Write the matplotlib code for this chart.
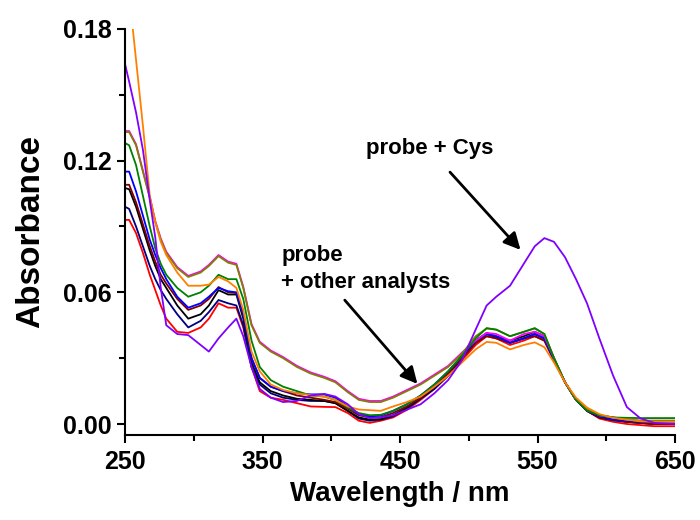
import numpy as np
import matplotlib
matplotlib.use('Agg')
import matplotlib.pyplot as plt

plt.rcParams['font.family'] = ['Liberation Sans', 'DejaVu Sans']
plt.rcParams['font.weight'] = 'bold'

wl = [250, 253, 258, 263, 268, 272, 276, 280, 288, 296, 305, 311, 318, 325, 331, 336,
      342, 348, 356, 365, 375, 385, 395, 403, 412, 420, 428, 436, 445, 455, 465, 475,
      485, 495, 505, 513, 520, 530, 540, 548, 555, 562, 570, 578, 586, 595, 605, 615,
      625, 635, 650]

olive = [.133, .133, .127, .115, .103, .092, .084, .078, .071, .067, .069, .072, .0765, .0735, .0725, .062,
         .045, .037, .033, .030, .026, .023, .021, .019, .0145, .011, .010, .010, .012, .015, .018, .022,
         .026, .032, .040, .0435, .043, .040, .042, .0435, .041, .030, .019, .011, .007, .004, .003, .002,
         .0015, .0015, .0015]
magenta = [.1335, .1335, .1275, .1155, .1035, .0925, .0845, .0785, .0715, .0675, .0695, .0725, .077, .074, .073, .0625,
           .0455, .0375, .0335, .0305, .0265, .0235, .0215, .0195, .015, .0115, .0105, .0105, .0125, .0155, .0185, .0225,
           .0265, .0325, .038, .0415, .041, .038, .041, .042, .040, .030, .019, .011, .007, .004, .003, .002,
           .0015, .0015, .0015]
green = [.128, .127, .118, .104, .090, .080, .073, .068, .062, .058, .060, .063, .068, .066, .066, .057,
         .038, .026, .020, .017, .015, .013, .0125, .011, .0075, .005, .004, .0042, .006, .009, .013, .018,
         .024, .031, .039, .0437, .043, .040, .042, .0437, .041, .030, .019, .011, .006, .004, .003, .0028,
         .0027, .0027, .0027]
orange = [.215, .196, .166, .136, .104, .092, .083, .077, .069, .063, .063, .0635, .067, .065, .062, .052,
          .033, .024, .018, .0155, .014, .0132, .0125, .011, .008, .0066, .0063, .006, .008, .010, .0125, .017,
          .022, .028, .034, .0374, .037, .034, .036, .0372, .035, .028, .019, .012, .0075, .0045, .0028, .002,
          .0012, .001, .001]
purple = [.164, .156, .142, .125, .102, .085, .062, .045, .041, .0405, .036, .033, .039, .044, .048, .040,
          .026, .016, .012, .010, .0105, .013, .0137, .0125, .009, .0045, .0027, .003, .004, .0065, .009, .014,
          .020, .029, .043, .054, .058, .063, .073, .081, .0847, .083, .076, .066, .055, .039, .022, .0077,
          .0025, .0005, .0]
blue = [.115, .115, .106, .095, .084, .077, .071, .066, .058, .053, .055, .058, .062, .0605, .060, .050,
        .030, .021, .017, .015, .014, .0135, .0135, .012, .008, .0045, .0035, .0038, .006, .009, .013, .018,
        .024, .031, .038, .041, .040, .037, .039, .041, .039, .029, .019, .011, .006, .0035, .002, .0015,
        .001, .001, .001]
darkred = [.109, .109, .101, .091, .081, .074, .068, .064, .057, .052, .054, .057, .0624, .060, .0597, .050,
           .030, .021, .017, .015, .013, .012, .011, .010, .007, .004, .003, .003, .005, .008, .012, .017,
           .023, .030, .037, .040, .039, .037, .039, .040, .038, .029, .019, .011, .006, .003, .002, .001,
           .0005, .0, .0]
black = [.1075, .107, .099, .089, .079, .072, .066, .062, .054, .048, .050, .054, .061, .059, .059, .048,
         .028, .019, .015, .013, .0115, .011, .0105, .0095, .006, .003, .002, .0022, .004, .0075, .012, .017,
         .023, .031, .038, .0415, .040, .038, .040, .042, .040, .030, .019, .011, .006, .003, .0018, .001,
         .0005, .0, .0]
navy = [.099, .098, .090, .081, .072, .066, .061, .057, .050, .044, .047, .051, .0565, .055, .054, .045,
        .026, .018, .014, .012, .011, .0105, .0105, .0095, .006, .0025, .0015, .002, .0035, .007, .0115, .016,
        .022, .030, .037, .041, .0395, .037, .039, .041, .039, .029, .019, .011, .006, .003, .0018, .001,
        .0005, .0, .0]
red = [.093, .093, .087, .078, .068, .061, .054, .048, .042, .0415, .044, .048, .055, .053, .053, .044,
       .026, .015, .012, .011, .0095, .008, .0078, .0077, .005, .0015, .0005, .0015, .003, .0065, .011, .016,
       .022, .029, .036, .040, .039, .036, .038, .040, .038, .029, .019, .011, .006, .0025, .001, .0,
       -.0005, -.001, -.001]

xticks = [250, 350, 450, 550, 650]
xminor = [300, 400, 500, 600]
yticks = [0.0, 0.06, 0.12, 0.18]
ytick_labels = ['0.00', '0.06', '0.12', '0.18']
yminor = [0.03, 0.09, 0.15]

series = [(red, '#FF0000'), (navy, '#000080'), (black, '#000000'), (darkred, '#800000'),
          (blue, '#0000FF'), (magenta, '#FF00FF'), (olive, '#808000'), (green, '#008000'),
          (orange, '#FF8000'), (purple, '#8000FF')]

fig = plt.figure(figsize=(7, 5.2), dpi=100)
ax = fig.add_axes([0.1786, 0.1635, 0.7857, 0.7808])

for y, c in series:
    ax.plot(wl, y, color=c, linewidth=1.3)

ax.set_xlim(250, 650)
ax.set_ylim(-0.005, 0.18)
ax.spines['top'].set_visible(False)
ax.spines['right'].set_visible(False)
ax.spines['left'].set_linewidth(1.5)
ax.spines['bottom'].set_linewidth(1.5)

ax.set_xticks(xticks)
ax.set_xticks(xminor, minor=True)
ax.set_yticks(yticks)
ax.set_yticklabels(ytick_labels)
ax.set_yticks(yminor, minor=True)
ax.tick_params(which='major', direction='out', length=6, width=1.5)
ax.tick_params(which='minor', direction='out', length=4, width=1.5)
ax.tick_params(axis='x', labelsize=18, pad=5)
ax.tick_params(axis='y', labelsize=18)
for lab in ax.get_xticklabels() + ax.get_yticklabels():
    lab.set_fontweight('bold')

ax.set_xlabel('Wavelength / nm', fontsize=20, fontweight='bold', labelpad=5)
ax.set_ylabel('Absorbance', fontsize=24, fontweight='bold', labelpad=12)

ax.text(425, 0.1257, 'probe + Cys', fontsize=16, fontweight='bold', ha='left', va='center')
ax.text(363.5, 0.077, 'probe', fontsize=16, fontweight='bold', ha='left', va='center')
ax.text(363.5, 0.0645, '+ other analysts', fontsize=16, fontweight='bold', ha='left', va='center')

ax.annotate('', xy=(539, 0.0784), xytext=(485, 0.1157),
            arrowprops=dict(arrowstyle='-|>', color='black', lw=2, mutation_scale=25))
ax.annotate('', xy=(464, 0.0173), xytext=(408.5, 0.0574),
            arrowprops=dict(arrowstyle='-|>', color='black', lw=2, mutation_scale=25))

fig.savefig('out.png', dpi=100)
